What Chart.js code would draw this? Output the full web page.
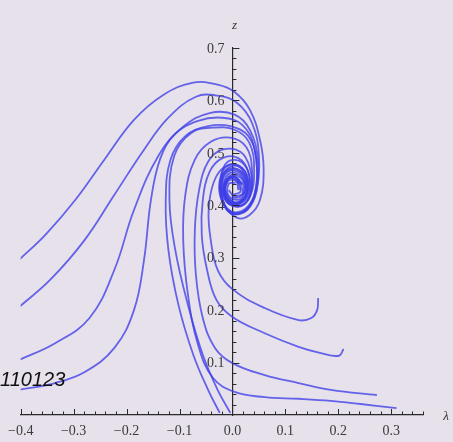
<!DOCTYPE html>
<html>
<head>
<meta charset="utf-8">
<script src="https://cdn.jsdelivr.net/npm/chart.js@4.4.1/dist/chart.umd.min.js"></script>
<style>
  html, body { margin: 0; padding: 0; background: #e7e1eb; }
  #wrap { position: relative; width: 453px; height: 442px; overflow: hidden; }
  #stamp { position: absolute; left: 0; top: 368px; font: italic 20px "Liberation Sans", Arial, sans-serif; color: #111; }
</style>
</head>
<body>
<div id="wrap">
  <canvas id="phaseChart" width="453" height="442"></canvas>
  <div id="stamp">110123</div>
</div>
<script>
// Trayektori (lambda, z)
const xTicks = [-0.4, -0.3, -0.2, -0.1, 0.0, 0.1, 0.2, 0.3];
const yTicks = [0.1, 0.2, 0.3, 0.4, 0.5, 0.6, 0.7];

const curveA_x = [-0.403,-0.353,-0.297,-0.242,-0.186,-0.130,-0.074,-0.028,0.004,0.033,0.052,0.059,0.052,0.033,0.009,-0.015,-0.022,-0.009,0.019,0.033,0.022,0.000,-0.015,-0.007,0.011,0.015,0.000];
const curveA_y = [0.296,0.344,0.410,0.487,0.563,0.611,0.634,0.630,0.616,0.582,0.525,0.468,0.410,0.382,0.376,0.401,0.448,0.483,0.481,0.445,0.410,0.401,0.426,0.452,0.448,0.426,0.420];

const curveB_x = [-0.403,-0.344,-0.279,-0.223,-0.167,-0.121,-0.069,-0.028,0.009,0.037,0.050,0.046,0.028,0.000,-0.019,-0.020,0.000,0.024,0.028,0.009,-0.011,-0.009,0.007,0.011];
const curveB_y = [0.206,0.258,0.334,0.420,0.506,0.567,0.607,0.609,0.595,0.557,0.496,0.429,0.391,0.384,0.410,0.452,0.475,0.464,0.426,0.405,0.418,0.445,0.447,0.429];

const curveC_x = [-0.403,-0.335,-0.270,-0.223,-0.186,-0.139,-0.093,-0.043,0.004,0.033,0.048,0.045,0.026,-0.004,-0.022,-0.019,0.004,0.026,0.024,0.004,-0.013,-0.004,0.013];
const curveC_y = [0.105,0.137,0.185,0.277,0.391,0.496,0.550,0.576,0.573,0.544,0.487,0.426,0.391,0.385,0.418,0.458,0.471,0.452,0.418,0.406,0.429,0.452,0.441];

const curveD_x = [-0.403,-0.335,-0.279,-0.223,-0.186,-0.167,-0.154,-0.136,-0.108,-0.065,-0.019,0.019,0.041,0.046,0.032,0.006,-0.019,-0.024,-0.007,0.019,0.030,0.015,-0.007,-0.015,0.000,0.019];
const curveD_y = [0.048,0.061,0.082,0.128,0.200,0.296,0.410,0.490,0.536,0.561,0.567,0.553,0.511,0.445,0.399,0.385,0.406,0.448,0.477,0.471,0.437,0.406,0.410,0.437,0.456,0.439];

const curveE_x = [-0.024,-0.046,-0.074,-0.102,-0.121,-0.126,-0.117,-0.089,-0.046,-0.004,0.030,0.045,0.043,0.024,-0.004,-0.020,-0.015,0.009,0.026,0.015,-0.007,-0.007,0.006];
const curveE_y = [0.004,0.048,0.115,0.210,0.315,0.410,0.487,0.532,0.551,0.551,0.532,0.487,0.426,0.393,0.389,0.420,0.460,0.468,0.443,0.412,0.418,0.441,0.443];

const curveF_x = [-0.004,-0.028,-0.056,-0.084,-0.108,-0.119,-0.110,-0.078,-0.037,0.004,0.032,0.041,0.033,0.011,-0.013,-0.019,-0.004,0.019,0.022,0.006,-0.007];
const curveF_y = [0.004,0.048,0.115,0.210,0.315,0.410,0.494,0.538,0.548,0.544,0.519,0.468,0.416,0.397,0.410,0.445,0.466,0.456,0.426,0.414,0.429];

const curveR4_x = [0.310,0.242,0.186,0.125,0.061,0.004,-0.037,-0.065,-0.084,-0.093,-0.089,-0.071,-0.041,-0.004,0.026,0.037,0.033,0.015,-0.011,-0.017,-0.004,0.019,0.022,0.004];
const curveR4_y = [0.013,0.021,0.027,0.031,0.034,0.044,0.071,0.134,0.229,0.334,0.420,0.487,0.521,0.529,0.511,0.468,0.418,0.399,0.406,0.439,0.462,0.452,0.424,0.416];

const curveR3_x = [0.273,0.186,0.125,0.061,0.000,-0.033,-0.056,-0.069,-0.071,-0.063,-0.046,-0.019,0.015,0.033,0.035,0.019,-0.007,-0.017,-0.002,0.019,0.019];
const curveR3_y = [0.038,0.048,0.061,0.076,0.099,0.128,0.185,0.267,0.353,0.429,0.483,0.506,0.502,0.471,0.426,0.401,0.405,0.435,0.458,0.448,0.422];

const curveR2_x = [0.210,0.201,0.167,0.125,0.061,0.000,-0.030,-0.048,-0.058,-0.056,-0.043,-0.019,0.011,0.030,0.032,0.013,-0.009,-0.015,0.002,0.019];
const curveR2_y = [0.126,0.113,0.118,0.130,0.156,0.187,0.219,0.277,0.344,0.410,0.464,0.490,0.490,0.464,0.424,0.403,0.410,0.439,0.456,0.441];

const curveR1_x = [0.162,0.160,0.149,0.125,0.061,0.000,-0.028,-0.041,-0.045,-0.035,-0.015,0.011,0.026,0.024,0.004,-0.013,-0.011,0.007,0.015];
const curveR1_y = [0.223,0.200,0.185,0.181,0.204,0.240,0.277,0.334,0.391,0.445,0.473,0.475,0.448,0.414,0.403,0.420,0.448,0.452,0.429];

const curves = [
    [curveA_x, curveA_y], [curveB_x, curveB_y], [curveC_x, curveC_y], [curveD_x, curveD_y],
    [curveE_x, curveE_y], [curveF_x, curveF_y],
    [curveR4_x, curveR4_y], [curveR3_x, curveR3_y], [curveR2_x, curveR2_y], [curveR1_x, curveR1_y]
];

const lineColor = 'rgba(62, 62, 232, 0.78)';
const axisColor = '#2a2a2a';
const serifFamily = '"Liberation Serif", "DejaVu Serif", serif';

const datasets = curves.map(([xs, ys]) => ({
    data: xs.map((x, i) => ({ x, y: ys[i] })),
    showLine: true,
    borderColor: lineColor,
    borderWidth: 1.8,
    pointRadius: 0,
    tension: 0.4,
    fill: false
}));

// Tick gaya Mathematica: mayor tiap 0.1, minor tiap 0.02, ke arah dalam
const mathTicks = {
    id: 'mathTicks',
    afterDraw(chart) {
        const { ctx, scales: { x, y } } = chart;
        const x0 = x.getPixelForValue(0);
        const y0 = y.getPixelForValue(0);
        ctx.save();
        ctx.strokeStyle = axisColor;
        ctx.lineWidth = 1;
        ctx.beginPath();
        for (let i = -20; i <= 18; i++) {
            const px = Math.round(x.getPixelForValue(i * 0.02)) + 0.5;
            const len = i % 5 === 0 ? 6 : 3.5;
            ctx.moveTo(px, y0);
            ctx.lineTo(px, y0 - len);
        }
        for (let i = 1; i <= 35; i++) {
            const py = Math.round(y.getPixelForValue(i * 0.02)) + 0.5;
            const len = i % 5 === 0 ? 7 : 4;
            ctx.moveTo(x0, py);
            ctx.lineTo(x0 + len, py);
        }
        ctx.stroke();

        // label sumbu y di kiri garis sumbu
        ctx.fillStyle = '#3a3a3a';
        ctx.font = '14px ' + serifFamily;
        ctx.textAlign = 'right';
        ctx.textBaseline = 'middle';
        yTicks.forEach(v => ctx.fillText(v.toFixed(1), x0 - 8, y.getPixelForValue(v) + 1));

        ctx.fillStyle = '#333';
        ctx.font = 'italic 13px ' + serifFamily;
        ctx.textAlign = 'center';
        ctx.fillText('z', x0 + 2, 26);
        ctx.fillText('λ', 446, y0 + 2);
        ctx.restore();
    }
};

new Chart(document.getElementById('phaseChart'), {
    type: 'scatter',
    data: { datasets },
    options: {
        responsive: false,
        animation: false,
        layout: { padding: { left: 14, right: 30, top: 48, bottom: 0 } },
        plugins: { legend: { display: false }, tooltip: { enabled: false } },
        scales: {
            x: {
                type: 'linear',
                min: -0.4,
                max: 0.36,
                grid: { display: false, drawTicks: false },
                border: { display: true, color: axisColor, width: 1.2 },
                afterFit: s => { s.height = 27; },
                ticks: {
                    stepSize: 0.1,
                    includeBounds: false,
                    padding: 8,
                    color: '#3a3a3a',
                    font: { family: serifFamily, size: 14 },
                    callback: v => {
                        const r = Math.round(v * 10) / 10;
                        return xTicks.includes(r) ? (r < 0 ? '\u2212' + Math.abs(r).toFixed(1) : r.toFixed(1)) : '';
                    }
                }
            },
            y: {
                type: 'linear',
                position: { x: 0 },
                min: 0,
                max: 0.7,
                grid: { display: false, drawTicks: false },
                border: { display: true, color: axisColor, width: 1.2 },
                ticks: { display: false, stepSize: 0.1 }
            }
        }
    },
    plugins: [mathTicks]
});
</script>
</body>
</html>
